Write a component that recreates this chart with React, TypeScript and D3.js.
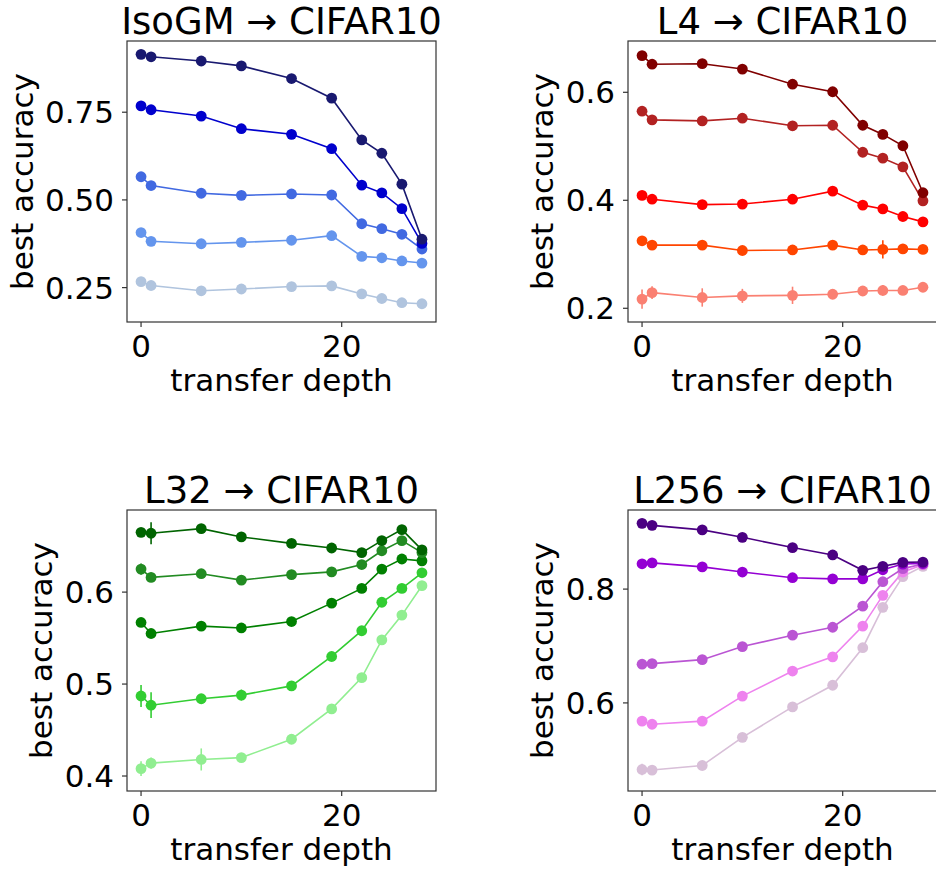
import React from "react";
import * as d3 from "d3";

// transfer depth (x) shared by all panels
const depths = [0, 1, 6, 10, 15, 19, 22, 24, 26, 28];

// IsoGM -> CIFAR10
const isoColors = ["#191970", "#0000cd", "#4169e1", "#6495ed", "#b0c4de"];
const isoValues = [
  [0.915, 0.908, 0.896, 0.882, 0.846, 0.79, 0.671, 0.633, 0.545, 0.388],
  [0.768, 0.757, 0.739, 0.703, 0.687, 0.646, 0.542, 0.52, 0.475, 0.376],
  [0.566, 0.541, 0.519, 0.513, 0.517, 0.514, 0.432, 0.418, 0.402, 0.36],
  [0.407, 0.382, 0.375, 0.379, 0.385, 0.398, 0.339, 0.335, 0.326, 0.32],
  [0.267, 0.256, 0.241, 0.246, 0.253, 0.255, 0.232, 0.219, 0.207, 0.204],
];
const isoErrors = [
  [0, 0, 0, 0, 0, 0, 0, 0, 0, 0],
  [0, 0, 0, 0, 0, 0, 0, 0, 0, 0],
  [0, 0, 0, 0, 0, 0, 0, 0, 0, 0],
  [0, 0, 0, 0, 0, 0, 0, 0, 0, 0],
  [0, 0, 0, 0, 0, 0, 0, 0, 0, 0],
];

// L4 -> CIFAR10
const l4Colors = ["#800000", "#b22222", "#ff0000", "#ff4500", "#fa8072"];
const l4Values = [
  [0.668, 0.652, 0.653, 0.643, 0.615, 0.601, 0.539, 0.522, 0.501, 0.414],
  [0.565, 0.549, 0.547, 0.552, 0.538, 0.539, 0.489, 0.478, 0.462, 0.399],
  [0.409, 0.402, 0.392, 0.393, 0.402, 0.417, 0.391, 0.384, 0.37, 0.36],
  [0.325, 0.317, 0.317, 0.307, 0.308, 0.317, 0.308, 0.309, 0.31, 0.309],
  [0.217, 0.229, 0.22, 0.223, 0.224, 0.226, 0.232, 0.233, 0.233, 0.239],
];
const l4Errors = [
  [0, 0, 0, 0, 0, 0, 0, 0, 0, 0],
  [0, 0, 0, 0.007, 0, 0, 0, 0, 0, 0],
  [0.008, 0, 0.008, 0, 0, 0, 0, 0, 0, 0],
  [0, 0, 0, 0, 0, 0, 0, 0.017, 0, 0],
  [0.018, 0.012, 0.017, 0.013, 0.016, 0.005, 0, 0.01, 0, 0.005],
];

// L32 -> CIFAR10
const l32Colors = ["#006400", "#228b22", "#008000", "#32cd32", "#90ee90"];
const l32Values = [
  [0.665, 0.664, 0.669, 0.66, 0.653, 0.648, 0.643, 0.656, 0.668, 0.646],
  [0.625, 0.616, 0.62, 0.613, 0.619, 0.622, 0.63, 0.645, 0.656, 0.643],
  [0.567, 0.555, 0.563, 0.561, 0.568, 0.588, 0.604, 0.625, 0.636, 0.634],
  [0.487, 0.477, 0.484, 0.488, 0.498, 0.53, 0.558, 0.589, 0.604, 0.621],
  [0.408, 0.414, 0.418, 0.42, 0.44, 0.473, 0.507, 0.548, 0.575, 0.607],
];
const l32Errors = [
  [0, 0.012, 0, 0, 0.004, 0, 0, 0, 0, 0],
  [0.006, 0.005, 0, 0.005, 0.004, 0, 0, 0, 0, 0],
  [0, 0, 0, 0, 0, 0, 0, 0, 0, 0],
  [0.012, 0.014, 0.005, 0.006, 0.004, 0.004, 0, 0, 0, 0],
  [0.008, 0.006, 0.012, 0, 0, 0, 0.004, 0.004, 0, 0],
];

// L256 -> CIFAR10
const l256Colors = ["#4b0082", "#9400d3", "#ba55d3", "#ee82ee", "#d8bfd8"];
const l256Values = [
  [0.9155, 0.912, 0.904, 0.891, 0.873, 0.86, 0.833, 0.84, 0.847, 0.8475],
  [0.8445, 0.846, 0.839, 0.83, 0.82, 0.818, 0.818, 0.834, 0.844, 0.845],
  [0.668, 0.669, 0.676, 0.699, 0.719, 0.733, 0.77, 0.813, 0.836, 0.844],
  [0.568, 0.5625, 0.568, 0.612, 0.656, 0.681, 0.735, 0.789, 0.83, 0.843],
  [0.483, 0.482, 0.49, 0.5395, 0.593, 0.631, 0.697, 0.768, 0.822, 0.84],
];
const l256Errors = [
  [0, 0, 0, 0, 0, 0, 0, 0, 0, 0],
  [0, 0, 0, 0, 0, 0, 0, 0, 0, 0],
  [0, 0, 0, 0, 0, 0, 0, 0, 0, 0],
  [0, 0, 0, 0, 0, 0, 0, 0, 0, 0],
  [0.01, 0, 0, 0, 0.008, 0, 0, 0, 0, 0],
];

const xTicks = [0, 20];
const panels = [
  { title: "IsoGM → CIFAR10", left: 127, top: 41, yDomain: [0.152, 0.953], yTicks: [0.25, 0.5, 0.75], fmt: ".2f", labelX: 33, values: isoValues, errors: isoErrors, colors: isoColors },
  { title: "L4 → CIFAR10", left: 628, top: 41, yDomain: [0.1746, 0.695], yTicks: [0.2, 0.4, 0.6], fmt: ".1f", labelX: 553, values: l4Values, errors: l4Errors, colors: l4Colors },
  { title: "L32 → CIFAR10", left: 127, top: 510, yDomain: [0.3837, 0.6893], yTicks: [0.4, 0.5, 0.6], fmt: ".1f", labelX: 52, values: l32Values, errors: l32Errors, colors: l32Colors },
  { title: "L256 → CIFAR10", left: 628, top: 510, yDomain: [0.4452, 0.939], yTicks: [0.6, 0.8], fmt: ".1f", labelX: 553, values: l256Values, errors: l256Errors, colors: l256Colors },
];

const W = 309;
const H = 281;
const font = "'DejaVu Sans', sans-serif";
const labelSize = 31;
const titleSize = 37;

function Panel({ p }) {
  const x = d3.scaleLinear().domain([-1.4, 29.4]).range([p.left, p.left + W]);
  const y = d3.scaleLinear().domain(p.yDomain).range([p.top + H, p.top]);
  const fmt = d3.format(p.fmt);
  const line = d3
    .line<number>()
    .x((d, i) => x(depths[i]))
    .y(d => y(d));
  const order = [4, 3, 2, 1, 0];
  const bottom = p.top + H;
  const clipId = "clip" + p.left + "_" + p.top;

  return (
    <g>
      <defs>
        <clipPath id={clipId}>
          <rect x={p.left} y={p.top} width={W} height={H} />
        </clipPath>
      </defs>
      <g clipPath={`url(#${clipId})`}>
        {order.map(s => (
          <g key={s}>
            <path d={line(p.values[s])} fill="none" stroke={p.colors[s]} strokeWidth={1.6} />
            {p.values[s].map((v, i) =>
              p.errors[s][i] > 0 ? (
                <line
                  key={"e" + i}
                  x1={x(depths[i])}
                  x2={x(depths[i])}
                  y1={y(v - p.errors[s][i])}
                  y2={y(v + p.errors[s][i])}
                  stroke={p.colors[s]}
                  strokeWidth={1.6}
                />
              ) : null
            )}
            {p.values[s].map((v, i) => (
              <circle key={i} cx={x(depths[i])} cy={y(v)} r={5.4} fill={p.colors[s]} />
            ))}
          </g>
        ))}
      </g>
      <rect x={p.left} y={p.top} width={W} height={H} fill="none" stroke="#333" strokeWidth={1.2} />
      {p.yTicks.map(t => (
        <g key={t}>
          <line x1={p.left - 5} x2={p.left} y1={y(t)} y2={y(t)} stroke="#333" strokeWidth={1.2} />
          <text x={p.left - 13} y={y(t)} dy="0.36em" textAnchor="end" fontSize={labelSize} fontFamily={font}>
            {fmt(t)}
          </text>
        </g>
      ))}
      {xTicks.map(t => (
        <g key={t}>
          <line x1={x(t)} x2={x(t)} y1={bottom} y2={bottom + 5} stroke="#333" strokeWidth={1.2} />
          <text x={x(t)} y={bottom + 35} textAnchor="middle" fontSize={labelSize} fontFamily={font}>
            {t}
          </text>
        </g>
      ))}
      <text x={p.left + W / 2} y={bottom + 69} textAnchor="middle" fontSize={labelSize} fontFamily={font}>
        transfer depth
      </text>
      <text
        transform={`translate(${p.labelX},${p.top + H / 2}) rotate(-90)`}
        textAnchor="middle"
        fontSize={labelSize}
        fontFamily={font}
      >
        best accuracy
      </text>
      <text x={p.left + W / 2} y={p.top - 7} textAnchor="middle" fontSize={titleSize} fontFamily={font}>
        {p.title}
      </text>
    </g>
  );
}

export default function App() {
  return (
    <svg
      width={936}
      height={869}
      style={{ position: "absolute", left: 0, top: 0, background: "#fff" }}
    >
      {panels.map(p => (
        <Panel key={p.title} p={p} />
      ))}
    </svg>
  );
}
